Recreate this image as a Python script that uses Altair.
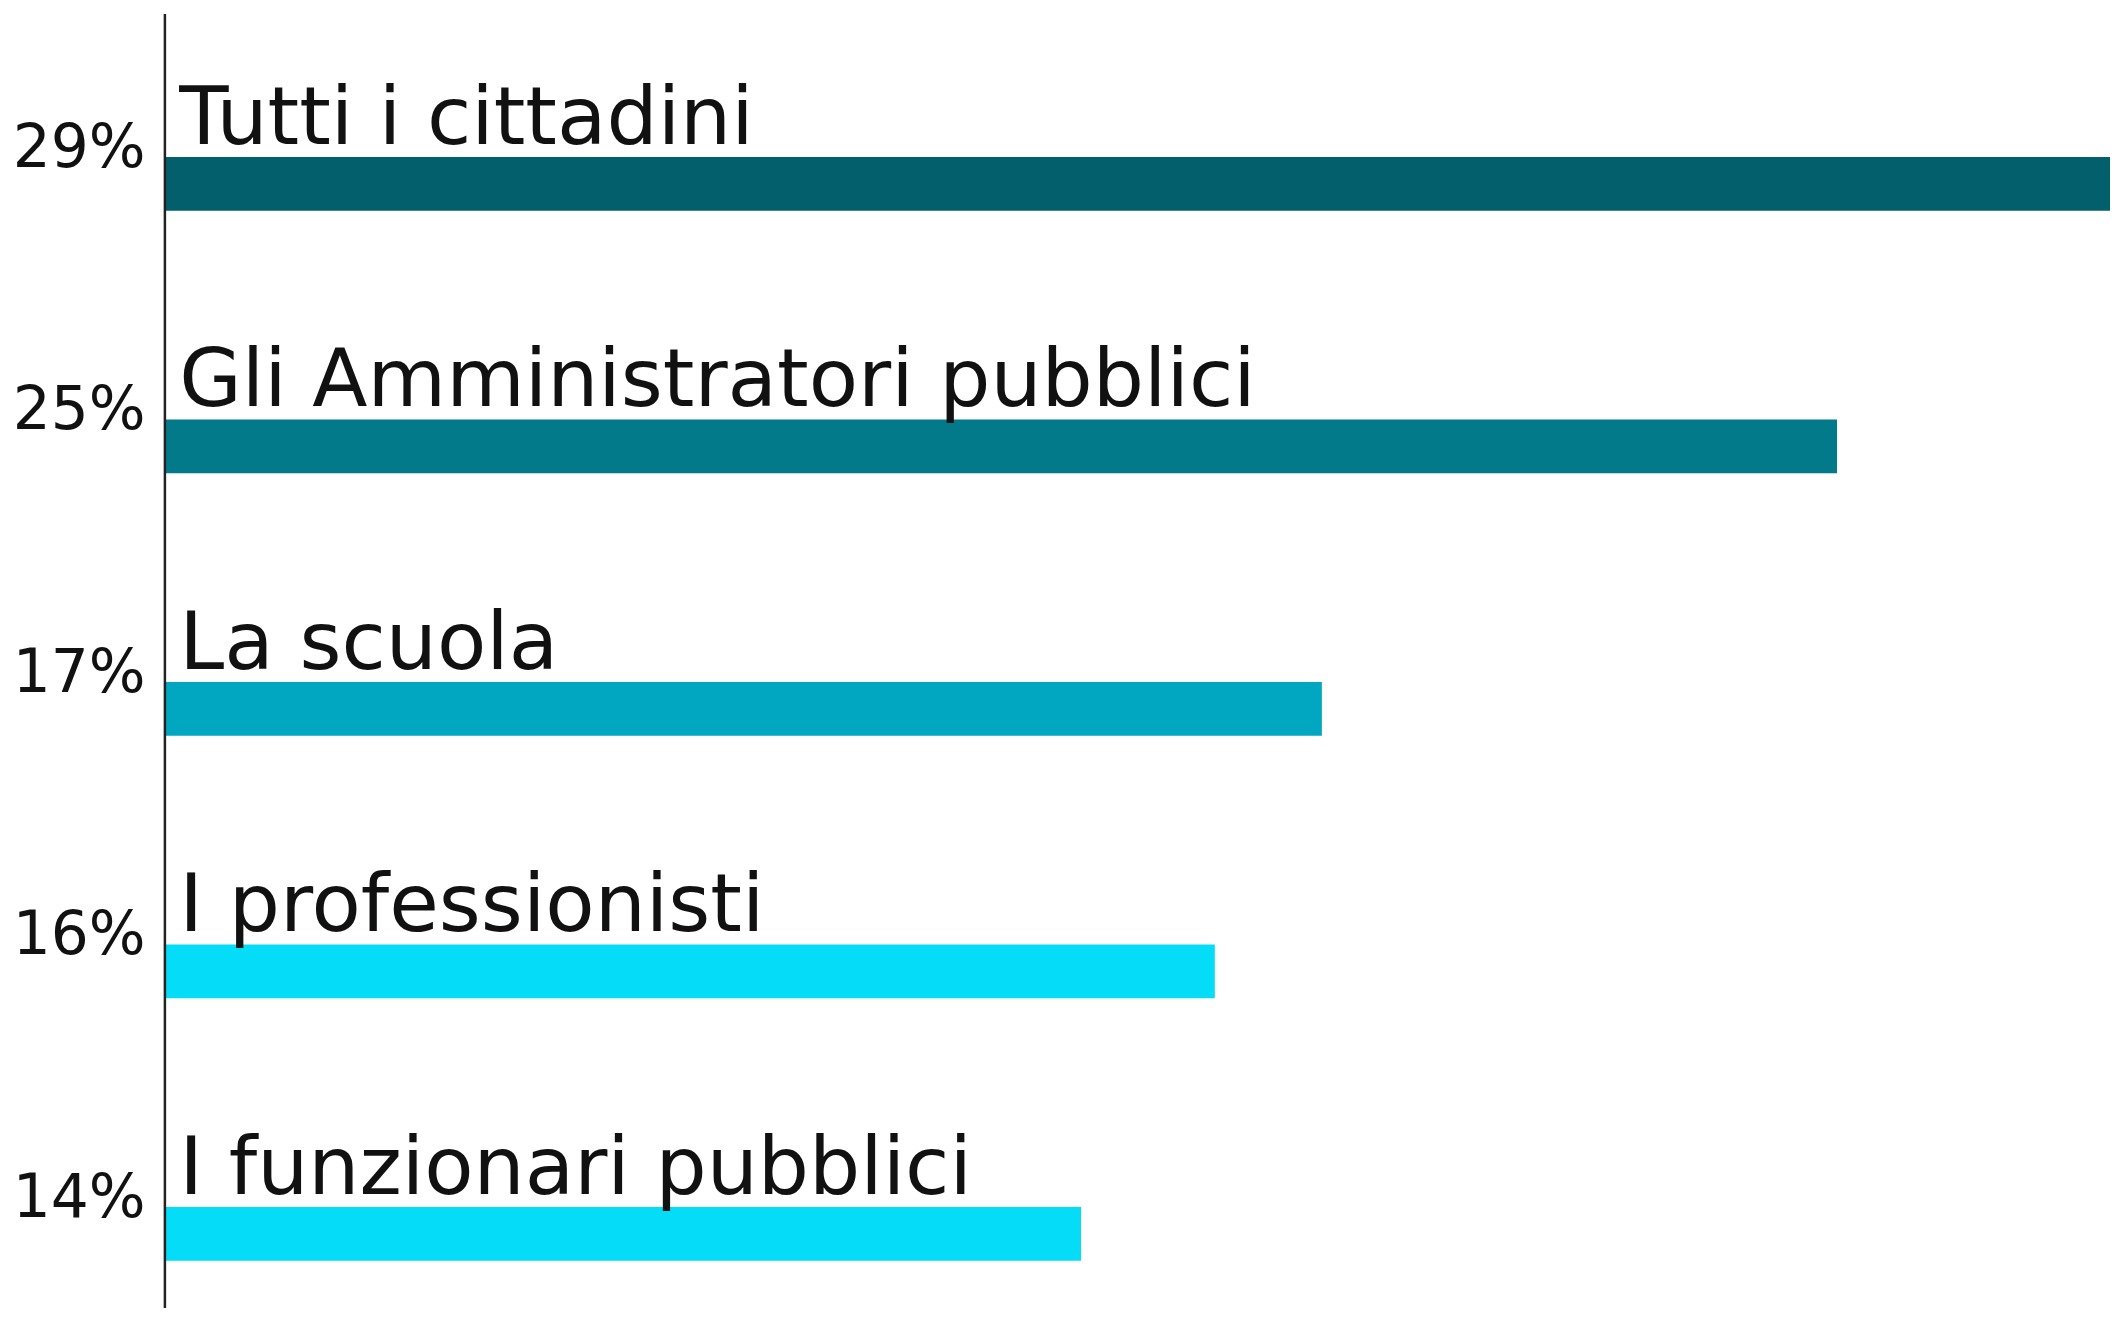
import altair as alt
import pandas as pd

categories = ["Tutti i cittadini", "Gli Amministratori pubblici", "La scuola",
              "I professionisti", "I funzionari pubblici"]
# bar lengths (printed labels are rounded)
values = [29.3, 25.0, 17.3, 15.7, 13.7]
pct_labels = ["29%", "25%", "17%", "16%", "14%"]
colors = ["#035F6B", "#037A89", "#01A6C0", "#05DCF8", "#05DCF8"]

df = pd.DataFrame({"cat": categories, "val": values, "pct": pct_labels})

y = alt.Y(
    "cat:N",
    sort=categories,
    scale=alt.Scale(paddingInner=0.5, paddingOuter=0.215, align=0.928),
    axis=alt.Axis(labels=False, ticks=False, title=None, grid=False, domain=True,
                  domainColor="#222222", domainWidth=2.5, zindex=1),
)
x = alt.X("val:Q", scale=alt.Scale(domain=[0, 29.08], nice=False, zero=True), axis=None)

base = alt.Chart(df)
bars = base.mark_bar(size=54, clip=True).encode(
    x=x, y=y,
    color=alt.Color("cat:N", scale=alt.Scale(domain=categories, range=colors), legend=None),
)
names = base.mark_text(
    align="left", baseline="alphabetic", dx=15, dy=-40,
    font="DejaVu Sans", fontSize=81, color="#111111",
).encode(x=alt.value(0), y=y, text="cat:N")
pcts = base.mark_text(
    align="right", baseline="alphabetic", dx=-19, dy=-17,
    font="DejaVu Sans", fontSize=60, color="#111111",
).encode(x=alt.value(0), y=y, text="pct:N")

chart = (
    alt.layer(bars, names, pcts)
    .properties(
        width=1953, height=1299,
        autosize=alt.AutoSizeParams(type="none"),
        padding={"left": 157, "top": 3, "right": 0, "bottom": 0},
        background="white",
    )
    .configure_view(stroke=None)
)

chart.save("out.html", embed_options={"renderer": "svg", "actions": False})
